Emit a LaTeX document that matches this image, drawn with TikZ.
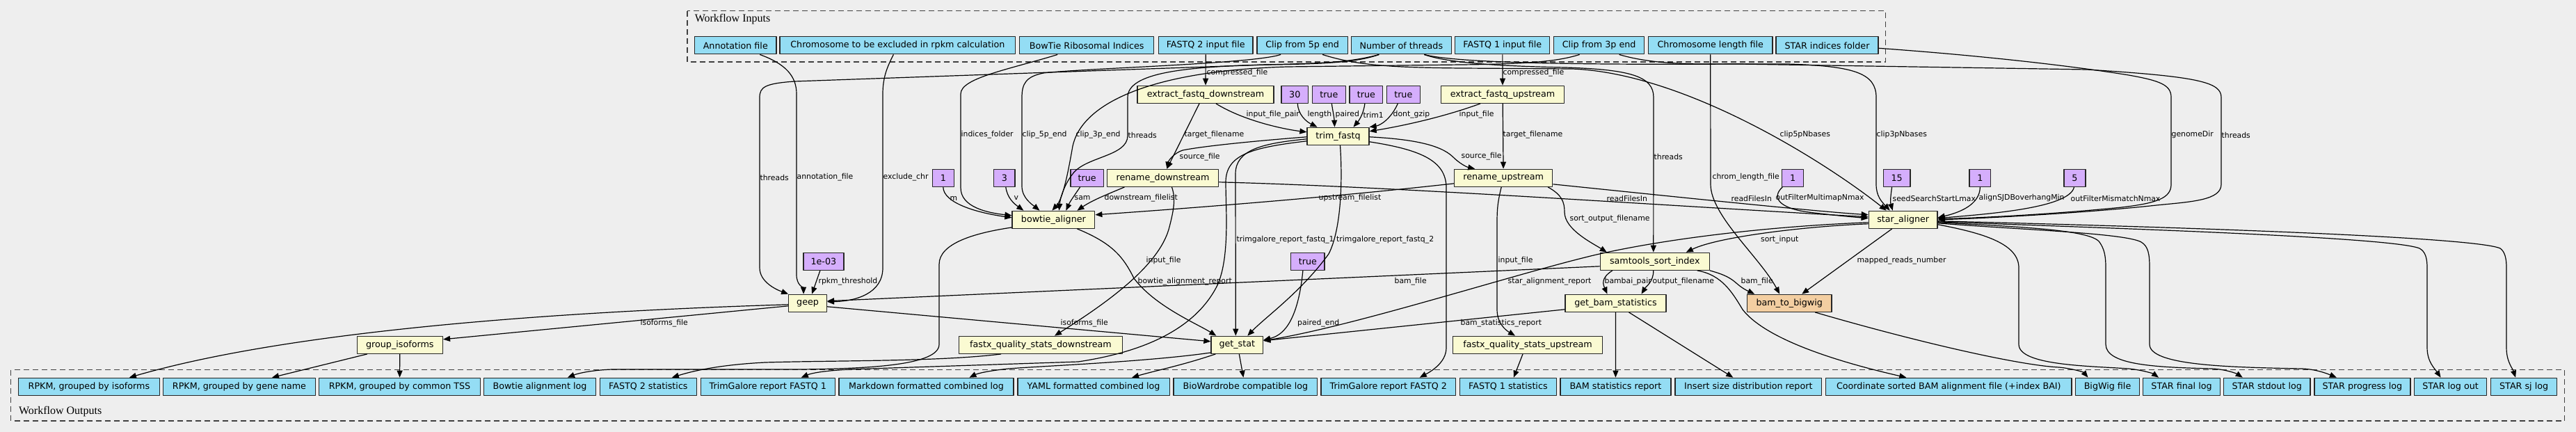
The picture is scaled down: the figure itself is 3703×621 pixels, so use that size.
\documentclass[tikz,border=0pt]{standalone}
\usepackage{fontspec}
\usepackage{tikz}
\usetikzlibrary{arrows.meta,positioning}
\newfontfamily\gvfont{DejaVu Sans}
\newfontfamily\gvtitle{Liberation Serif}
\definecolor{iocolor}{HTML}{94DDF4}
\definecolor{stepcolor}{HTML}{FAFAD2}
\definecolor{defcolor}{HTML}{D5AEFC}
\definecolor{subcolor}{HTML}{F3CEA1}
\definecolor{bgcolor}{HTML}{EEEEEE}

\begin{document}
\begin{tikzpicture}[x=1pt,y=-1pt,>={Triangle[length=10pt,width=8pt]},line join=round]
  \tikzset{box/.style={draw=black!85,line width=1.3pt,minimum height=25pt,inner sep=0pt,font=\gvfont\fontsize{12.7}{14}\selectfont}}
  \tikzset{io/.style={box,fill=iocolor},stp/.style={box,fill=stepcolor},dflt/.style={box,fill=defcolor},sub/.style={box,fill=subcolor}}
  \tikzset{flow/.style={->,line width=1.2pt,black}}
  \tikzset{lbl/.style={anchor=west,inner sep=0pt,font=\gvfont\fontsize{10.85}{12}\selectfont}}
  \tikzset{cluster/.style={draw=black!75,dash pattern=on 8pt off 5pt,line width=1.3pt}}
  \tikzset{ctitle/.style={anchor=base west,inner sep=0pt,font=\gvtitle\fontsize{16}{18}\selectfont}}

  \fill[bgcolor] (0,0) rectangle (3703,621);
  \useasboundingbox (0,0) rectangle (3703,621);

  % clusters
  \draw[cluster] (988,15.7) rectangle (2710.8,89);
  \node[ctitle] (in_title) at (998.6,31.7) {Workflow Inputs};
  \draw[cluster] (15.8,531.7) rectangle (3686.4,605);
  \node[ctitle] (out_title) at (26.9,595.7) {Workflow Outputs};

  % workflow inputs
  \node[io,minimum width=117.4] (in_annot)     at (1057.3,65.3) {Annotation file};
  \node[io,minimum width=338.8] (in_exclchr)   at (1290.4,65.3) {Chromosome to be excluded in rpkm calculation};
  \node[io,minimum width=193]   (in_bowtieidx) at (1562.2,65.3) {BowTie Ribosomal Indices};
  \node[io,minimum width=135.6] (in_fq2)       at (1733.2,65.3) {FASTQ 2 input file};
  \node[io,minimum width=130.2] (in_clip5)     at (1872.1,65.3) {Clip from 5p end};
  \node[io,minimum width=144]   (in_threads)   at (2014.3,65.3) {Number of threads};
  \node[io,minimum width=136]   (in_fq1)       at (2159.8,65.3) {FASTQ 1 input file};
  \node[io,minimum width=130.4] (in_clip3)     at (2298.6,65.3) {Clip from 3p end};
  \node[io,minimum width=178.5] (in_chrlen)    at (2458.7,65.3) {Chromosome length file};
  \node[io,minimum width=147]   (in_staridx)   at (2626.5,65.3) {STAR indices folder};

  % steps and default values
  \node[stp,minimum width=196]   (extract_down) at (1733,135.8) {extract\_fastq\_downstream};
  \node[dflt,minimum width=38.8] (len_val)      at (1861.3,135.8) {30};
  \node[dflt,minimum width=48.2] (paired_val)   at (1910.3,135.8) {true};
  \node[dflt,minimum width=47.8] (trim1_val)    at (1963.9,135.8) {true};
  \node[dflt,minimum width=47.9] (gzip_val)     at (2017.3,135.8) {true};
  \node[stp,minimum width=177.6] (extract_up)   at (2160,135.8) {extract\_fastq\_upstream};

  \node[stp,minimum width=89] (trim) at (1923.5,195.8) {trim\_fastq};

  \node[dflt,minimum width=30.8] (m_val)        at (1355.8,255.8) {1};
  \node[dflt,minimum width=30.5] (v_val)        at (1443.8,255.8) {3};
  \node[dflt,minimum width=47.4] (sam_val)      at (1562.6,255.8) {true};
  \node[stp,minimum width=160.2] (rename_down)  at (1671.5,255.8) {rename\_downstream};
  \node[stp,minimum width=141.2] (rename_up)    at (2161.2,255.8) {rename\_upstream};
  \node[dflt,minimum width=31]   (multimap_val) at (2577.2,255.8) {1};
  \node[dflt,minimum width=38.8] (seed_val)     at (2726.6,255.8) {15};
  \node[dflt,minimum width=30.8] (sjdb_val)     at (2846.4,255.8) {1};
  \node[dflt,minimum width=31]   (mismatch_val) at (2982.5,255.8) {5};

  \node[stp,minimum width=118.7] (bowtie) at (1514.4,315.8) {bowtie\_aligner};
  \node[stp,minimum width=98.8]  (star)   at (2735.7,315.8) {star\_aligner};

  \node[dflt,minimum width=58.1] (rpkm_val) at (1183.9,375.8) {1e-03};
  \node[dflt,minimum width=48.2] (pe_val)   at (1879.9,375.8) {true};
  \node[stp,minimum width=157.1] (sam_sort) at (2378.8,375.8) {samtools\_sort\_index};

  \node[stp,minimum width=54.6] (geep)      at (1161.1,435.8) {geep};
  \node[stp,minimum width=145]  (bam_stats) at (2322.5,435.8) {get\_bam\_statistics};
  \node[sub,minimum width=121.4] (bigwig)   at (2572.2,435.8) {bam\_to\_bigwig};

  \node[stp,minimum width=123.2] (group_iso)  at (574.8,495.8) {group\_isoforms};
  \node[stp,minimum width=234.5] (fastx_down) at (1496,495.8) {fastx\_quality\_stats\_downstream};
  \node[stp,minimum width=74.6]  (get_stat)   at (1778.3,495.8) {get\_stat};
  \node[stp,minimum width=214.7] (fastx_up)   at (2196,495.8) {fastx\_quality\_stats\_upstream};

  % workflow outputs
  \node[io,minimum width=202.8] (o_rpkm_iso)  at (127.9,555.8) {RPKM, grouped by isoforms};
  \node[io,minimum width=219]   (o_rpkm_gene) at (344,555.8) {RPKM, grouped by gene name};
  \node[io,minimum width=231.5] (o_rpkm_tss)  at (574.5,555.8) {RPKM, grouped by common TSS};
  \node[io,minimum width=161.3] (o_bowtie_log) at (776,555.8) {Bowtie alignment log};
  \node[io,minimum width=138.8] (o_fq2_stats) at (931.9,555.8) {FASTQ 2 statistics};
  \node[io,minimum width=192.9] (o_trim1)     at (1103.8,555.8) {TrimGalore report FASTQ 1};
  \node[io,minimum width=251.1] (o_md)        at (1331.5,555.8) {Markdown formatted combined log};
  \node[io,minimum width=218.2] (o_yaml)      at (1572.1,555.8) {YAML formatted combined log};
  \node[io,minimum width=206.6] (o_biow)      at (1790.4,555.8) {BioWardrobe compatible log};
  \node[io,minimum width=193.7] (o_trim2)     at (1995.8,555.8) {TrimGalore report FASTQ 2};
  \node[io,minimum width=138.8] (o_fq1_stats) at (2167.9,555.8) {FASTQ 1 statistics};
  \node[io,minimum width=158.9] (o_bam_stats) at (2322.4,555.8) {BAM statistics report};
  \node[io,minimum width=210.8] (o_insert)    at (2513.3,555.8) {Insert size distribution report};
  \node[io,minimum width=353.4] (o_bam)       at (2801.3,555.8) {Coordinate sorted BAM alignment file (+index BAI)};
  \node[io,minimum width=91.7]  (o_bigwig)    at (3029.5,555.8) {BigWig file};
  \node[io,minimum width=110.7] (o_final)     at (3136,555.8) {STAR final log};
  \node[io,minimum width=124.6] (o_stdout)    at (3258.7,555.8) {STAR stdout log};
  \node[io,minimum width=138.1] (o_progress)  at (3395.9,555.8) {STAR progress log};
  \node[io,minimum width=104.4] (o_logout)    at (3522.5,555.8) {STAR log out};
  \node[io,minimum width=95]    (o_sj)        at (3628.1,555.8) {STAR sj log};

  % inputs to steps
  \draw[flow] ([xshift=35]in_annot.south) .. controls (1130,92) and (1145,110) .. (1145,135) -- (1145,395) .. controls (1145,410) and (1155,414) .. ([xshift=-6]geep.north) node[lbl,at={(1145,255)}] {annotation\_file};
  \draw[flow] ([xshift=-6]in_exclchr.south) .. controls (1276,95) and (1269,110) .. (1269,135) -- (1269,385) .. controls (1269,422) and (1230,433) .. ([yshift=2]geep.east) node[lbl,at={(1269,255)}] {exclude\_chr};
  \draw[flow] ([xshift=-32]in_threads.south) .. controls (1950,90) and (1900,92) .. (1820,93) -- (1142,117) .. controls (1100,120) and (1092,125) .. (1092,140) -- (1092,385) .. controls (1092,405) and (1115,416) .. (geep.north west) node[lbl,at={(1092,255)}] {threads};
  \draw[flow] ([xshift=-42]in_bowtieidx.south) .. controls (1450,100) and (1381,112) .. (1381,135) -- (1381,270) .. controls (1381,298) and (1420,306) .. ([yshift=6]bowtie.west) node[lbl,at={(1381,194)}] {indices\_folder};
  \draw[flow] (in_fq2) -- (extract_down) node[lbl,at={(1734,105)}] {compressed\_file};
  \draw[flow] ([xshift=-31]in_clip5.south) .. controls (1800,92) and (1560,98) .. (1500,105) .. controls (1475,110) and (1469,120) .. (1469,140) -- (1469,268) .. controls (1469,285) and (1485,295) .. ([xshift=-20]bowtie.north) node[lbl,at={(1469,194)}] {clip\_5p\_end};
  \draw[flow] ([xshift=29]in_clip5.south) .. controls (1950,94) and (2000,97) .. (2100,98) -- (2260,99) .. controls (2420,105) and (2620,230) .. ([xshift=-24]star.north) node[lbl,at={(2558,194)}] {clip5pNbases};
  \draw[flow] ([xshift=-32]in_threads.south) .. controls (1940,90) and (1900,91) .. (1820,93) .. controls (1700,96) and (1621,105) .. (1621,140) -- (1621,195) .. controls (1621,225) and (1560,225) .. (1542,250) .. controls (1530,265) and (1524,285) .. ([xshift=8]bowtie.north) node[lbl,at={(1621,194)}] {threads};
  \draw[flow] ([xshift=-28]in_clip3.south) .. controls (2240,88) and (2200,92) .. (2100,93) -- (1850,96) .. controls (1650,102) and (1555,150) .. (1542,210) .. controls (1535,250) and (1528,285) .. ([xshift=-2]bowtie.north) node[lbl,at={(1546,194)}] {clip\_3p\_end};
  \draw[flow] ([xshift=33]in_threads.south) .. controls (2080,90) and (2150,95) .. (2250,97) .. controls (2345,100) and (2377,110) .. (2377,140) -- ([xshift=-2]sam_sort.north) node[lbl,at={(2377,225)}] {threads};
  \draw[flow] ([xshift=33]in_threads.south) .. controls (2100,92) and (2300,93) .. (2500,92) -- (3000,100) .. controls (3160,110) and (3193,118) .. (3193,140) -- (3193,265) .. controls (3193,288) and (3150,290) .. (3100,295) .. controls (3000,306) and (2850,314) .. (star.east) node[lbl,at={(3193,194)}] {threads};
  \draw[flow] ([yshift=-4]in_staridx.east) .. controls (2850,80) and (2980,95) .. (3060,108) .. controls (3105,116) and (3121,122) .. (3121,140) -- (3121,265) .. controls (3121,285) and (3100,292) .. (3050,298) .. controls (2950,308) and (2850,313) .. ([yshift=1]star.east) node[lbl,at={(3121,194)}] {genomeDir};
  \draw[flow] ([xshift=29]in_clip3.south) .. controls (2360,88) and (2400,92) .. (2450,92) -- (2570,92) .. controls (2665,95) and (2697,105) .. (2697,140) -- (2697,265) .. controls (2697,282) and (2705,290) .. ([xshift=-19]star.north) node[lbl,at={(2697,194)}] {clip3pNbases};
  \draw[flow] (in_chrlen.south) -- (2459,265) .. controls (2459,310) and (2530,370) .. ([xshift=-14]bigwig.north) node[lbl,at={(2461,255)}] {chrom\_length\_file};
  \draw[flow] (in_fq1) -- (extract_up) node[lbl,at={(2160,105)}] {compressed\_file};

  % trim_fastq
  \draw[flow] ([xshift=4]len_val.south) .. controls (1866,165) and (1878,175) .. ([xshift=-30]trim.north) node[lbl,at={(1879,165)}] {length};
  \draw[flow] ([xshift=4]paired_val.south) .. controls (1916,160) and (1918,170) .. ([xshift=-5]trim.north) node[lbl,at={(1919,165)}] {paired};
  \draw[flow] ([xshift=-2]trim1_val.south) .. controls (1960,165) and (1952,175) .. ([xshift=22]trim.north) node[lbl,at={(1959,165)}] {trim1};
  \draw[flow] ([xshift=-8]gzip_val.south) .. controls (2000,170) and (1985,180) .. (trim.north east) node[lbl,at={(2002,165)}] {dont\_gzip};
  \draw[flow] ([xshift=-32]extract_up.south) .. controls (2070,170) and (2010,182) .. ([yshift=7]trim.east) node[lbl,at={(2097,165)}] {input\_file};
  \draw[flow] ([xshift=15]extract_down.south) .. controls (1785,172) and (1840,185) .. ([yshift=6]trim.west) node[lbl,at={(1791,165)}] {input\_file\_pair};
  \draw[flow] ([xshift=-9]extract_down.south) -- ([xshift=6]rename_down.north) node[lbl,at={(1702,194)}] {target\_filename};
  \draw[flow] (extract_up) -- (rename_up) node[lbl,at={(2160,194)}] {target\_filename};
  \draw[flow] ([yshift=-1]trim.west) .. controls (1800,203) and (1730,210) .. (1700,216) .. controls (1688,220) and (1680,230) .. ([xshift=6]rename_down.north) node[lbl,at={(1695,226)}] {source\_file};
  \draw[flow] ([yshift=-1]trim.east) .. controls (2030,200) and (2070,208) .. (2088,225) .. controls (2098,235) and (2108,240) .. ([xshift=-41]rename_up.north) node[lbl,at={(2100,225)}] {source\_file};
  \draw[flow] ([xshift=3]trim.south) .. controls (1930,260) and (1928,330) .. (1910,365) .. controls (1870,420) and (1820,455) .. ([xshift=15]get_stat.north) node[lbl,at={(1920.6,345)}] {trimgalore\_report\_fastq\_2};
  \draw[flow] ([yshift=-4]trim.west) .. controls (1815,206) and (1776,215) .. (1776,250) -- ([xshift=-2]get_stat.north) node[lbl,at={(1777,345)}] {trimgalore\_report\_fastq\_1};
  \draw[flow] ([yshift=-7]trim.west) .. controls (1800,212) and (1762,222) .. (1762,262) .. controls (1762,300) and (1768,370) .. (1750,410) .. controls (1720,470) and (1650,505) .. (1550,520) -- (1250,530) .. controls (1200,531) and (1170,535) .. ([xshift=48]o_trim1.north);
  \draw[flow] ([yshift=-8]trim.east) .. controls (2040,215) and (2079,230) .. (2079,270) -- (2079,500) .. controls (2079,522) and (2055,535) .. ([xshift=45]o_trim2.north);

  % bowtie_aligner
  \draw[flow] (m_val.south) .. controls (1356,292) and (1405,306) .. ([yshift=3]bowtie.west) node[lbl,at={(1365,285)}] {m};
  \draw[flow] ([xshift=2]v_val.south) .. controls (1448,285) and (1458,293) .. ([xshift=-43]bowtie.north) node[lbl,at={(1457,285)}] {v};
  \draw[flow] ([xshift=-10]sam_val.south) .. controls (1545,280) and (1538,290) .. ([xshift=18]bowtie.north) node[lbl,at={(1544,285)}] {sam};
  \draw[flow] ([xshift=-55]rename_down.south) .. controls (1590,280) and (1570,288) .. ([xshift=34]bowtie.north) node[lbl,at={(1587,285)}] {downstream\_filelist};
  \draw[flow] ([yshift=-8]rename_up.west) .. controls (1900,285) and (1700,300) .. ([yshift=7]bowtie.east) node[lbl,at={(1895,285)}] {upstream\_filelist};
  \draw[flow] ([yshift=-6]rename_down.east) .. controls (2000,268) and (2400,296) .. ([yshift=4]star.west) node[lbl,at={(2309,285)}] {readFilesIn};
  \draw[flow] ([yshift=-9]rename_up.east) .. controls (2400,282) and (2600,303) .. ([yshift=7]star.west) node[lbl,at={(2488,285)}] {readFilesIn};
  \draw[flow] ([xshift=13]rename_down.south) .. controls (1690,285) and (1688,300) .. (1680,330) .. controls (1665,380) and (1600,430) .. ([xshift=20]fastx_down.north) node[lbl,at={(1647,375)}] {input\_file};
  \draw[flow] ([xshift=-3]rename_up.south) .. controls (2153,290) and (2152,300) .. (2152,320) -- (2152,445) .. controls (2152,465) and (2165,475) .. ([xshift=-18]fastx_up.north) node[lbl,at={(2153,375)}] {input\_file};
  \draw[flow] ([xshift=64]rename_up.south) .. controls (2245,280) and (2249,290) .. (2249,305) .. controls (2249,330) and (2290,350) .. ([xshift=-69]sam_sort.north) node[lbl,at={(2256,315)}] {sort\_output\_filename};
  \draw[flow] ([xshift=34]bowtie.south) .. controls (1600,350) and (1615,370) .. (1630,400) .. controls (1660,440) and (1720,465) .. ([xshift=-30]get_stat.north) node[lbl,at={(1635,405)}] {bowtie\_alignment\_report};
  \draw[flow] ([yshift=2]bowtie.south west) .. controls (1400,335) and (1350,350) .. (1350,380) -- (1350,495) .. controls (1350,525) and (1250,530) .. (1150,531) -- (880,531) .. controls (850,532) and (830,537) .. ([xshift=40]o_bowtie_log.north);

  % statistics and logs
  \draw[flow] ([xshift=-57]fastx_down.south) .. controls (1350,520) and (1200,518) .. (1100,521) .. controls (1040,524) and (1000,532) .. ([xshift=34]o_fq2_stats.north);
  \draw[flow] ([yshift=2]get_stat.south west) .. controls (1650,520) and (1500,526) .. (1450,530) .. controls (1420,533) and (1405,537) .. ([xshift=62]o_md.north);
  \draw[flow] ([xshift=-31]get_stat.south) .. controls (1700,525) and (1660,533) .. ([xshift=55]o_yaml.north);
  \draw[flow] ([xshift=3]get_stat.south) -- ([xshift=-3]o_biow.north);
  \draw[flow] ([xshift=-7]fastx_up.south) -- ([xshift=8]o_fq1_stats.north);

  % geep
  \draw[flow] ([yshift=-4]geep.west) -- ([yshift=8]group_iso.east) node[lbl,at={(920,465)}] {isoforms\_file};
  \draw[flow] ([yshift=-5]geep.east) -- ([yshift=5]get_stat.west) node[lbl,at={(1524,465)}] {isoforms\_file};
  \draw[flow] ([yshift=-2]geep.west) .. controls (800,448) and (420,475) .. ([xshift=58]o_rpkm_iso.north);
  \draw[flow] ([xshift=-47]group_iso.south) -- ([xshift=47]o_rpkm_gene.north);
  \draw[flow] (group_iso) -- (o_rpkm_tss);
  \draw[flow] ([xshift=-5]rpkm_val.south) -- ([xshift=6]geep.north) node[lbl,at={(1176,405)}] {rpkm\_threshold};
  \draw[flow] ([xshift=-7]pe_val.south) .. controls (1865,470) and (1840,483) .. ([yshift=7]get_stat.east) node[lbl,at={(1864.5,465)}] {paired\_end};

  % star_aligner
  \draw[flow] ([yshift=-6]star.west) .. controls (2600,325) and (2470,340) .. ([xshift=45]sam_sort.north) node[lbl,at={(2530.5,345)}] {sort\_input};
  \draw[flow] ([yshift=-4]star.west) .. controls (2550,325) and (2400,342) .. (2295,366) .. controls (2180,393) and (1950,468) .. ([yshift=6]get_stat.east) node[lbl,at={(2167,405)}] {star\_alignment\_report};
  \draw[flow] ([xshift=-16]star.south) -- ([xshift=18]bigwig.north) node[lbl,at={(2669,375)}] {mapped\_reads\_number};
  \draw[flow] ([yshift=-7]sam_sort.west) -- ([yshift=3]geep.east) node[lbl,at={(2004,405)}] {bam\_file};
  \draw[flow] ([xshift=-61]sam_sort.south) .. controls (2300,400) and (2305,410) .. ([xshift=-12]bam_stats.north) node[lbl,at={(2306,405)}] {bambai\_pair};
  \draw[flow] ([xshift=-2]sam_sort.south) .. controls (2377,405) and (2366,412) .. ([xshift=37]bam_stats.north) node[lbl,at={(2375,405)}] {output\_filename};
  \draw[flow] (sam_sort.south east) .. controls (2480,395) and (2488,400) .. (2496,407) .. controls (2505,415) and (2512,418) .. ([xshift=-50]bigwig.north) node[lbl,at={(2502,405)}] {bam\_file};
  \draw[flow] ([xshift=61]sam_sort.south) .. controls (2475,395) and (2490,420) .. (2505,445) .. controls (2540,490) and (2650,522) .. ([xshift=-61]o_bam.north);
  \draw[flow] (bam_stats) -- (o_bam_stats);
  \draw[flow] ([xshift=19]bam_stats.south) -- ([xshift=-22]o_insert.north);
  \draw[flow] ([yshift=-9]bam_stats.west) -- ([yshift=6]get_stat.east) node[lbl,at={(2099,465)}] {bam\_statistics\_report};
  \draw[flow] ([xshift=37]bigwig.south) .. controls (2750,490) and (2900,525) .. (2960,528) .. controls (2980,530) and (2995,535) .. ([xshift=-28]o_bigwig.north);
  \draw[flow] ([yshift=-7]star.east) .. controls (2850,335) and (2902,350) .. (2902,385) -- (2902,495) .. controls (2902,525) and (3000,526) .. (3060,530) .. controls (3080,532) and (3095,537) .. ([xshift=-33]o_final.north);
  \draw[flow] ([yshift=-4]star.east) .. controls (2900,326) and (3005,330) .. (3018,348) .. controls (3025,358) and (3027,368) .. (3027,385) -- (3027,495) .. controls (3027,525) and (3100,528) .. (3180,530) .. controls (3200,531) and (3215,537) .. ([xshift=-35]o_stdout.north);
  \draw[flow] ([yshift=-5]star.east) .. controls (2900,330) and (3055,335) .. (3078,348) .. controls (3088,354) and (3090,365) .. (3090,385) -- (3090,495) .. controls (3090,525) and (3200,528) .. (3310,530) .. controls (3330,531) and (3345,537) .. ([xshift=-37]o_progress.north);
  \draw[flow] ([yshift=-3]star.east) .. controls (3100,330) and (3440,342) .. (3478,357) .. controls (3487,362) and (3489,372) .. (3489,385) -- (3489,500) .. controls (3489,520) and (3500,530) .. ([xshift=-14]o_logout.north);
  \draw[flow] ([yshift=-2]star.east) .. controls (3200,328) and (3560,342) .. (3594,357) .. controls (3601,362) and (3603,372) .. (3603,385) -- (3603,500) .. controls (3603,520) and (3612,530) .. ([xshift=-12]o_sj.north);
  \draw[flow] (sjdb_val.south) .. controls (2846,295) and (2815,306) .. ([yshift=3]star.east) node[lbl,at={(2844,285)}] {alignSJDBoverhangMin};
  \draw[flow] ([xshift=-1]mismatch_val.south) .. controls (2975,300) and (2850,308) .. ([yshift=2]star.east) node[lbl,at={(2976,285)}] {outFilterMismatchNmax};
  \draw[flow] ([xshift=-7]seed_val.south) .. controls (2718,280) and (2717,290) .. ([xshift=-15]star.north) node[lbl,at={(2720,285)}] {seedSearchStartLmax};
  \draw[flow] ([xshift=-15]multimap_val.south) .. controls (2545,285) and (2560,300) .. (2600,305) .. controls (2640,310) and (2665,312) .. ([yshift=2]star.west) node[lbl,at={(2552,285)}] {outFilterMultimapNmax};
\end{tikzpicture}
\end{document}
